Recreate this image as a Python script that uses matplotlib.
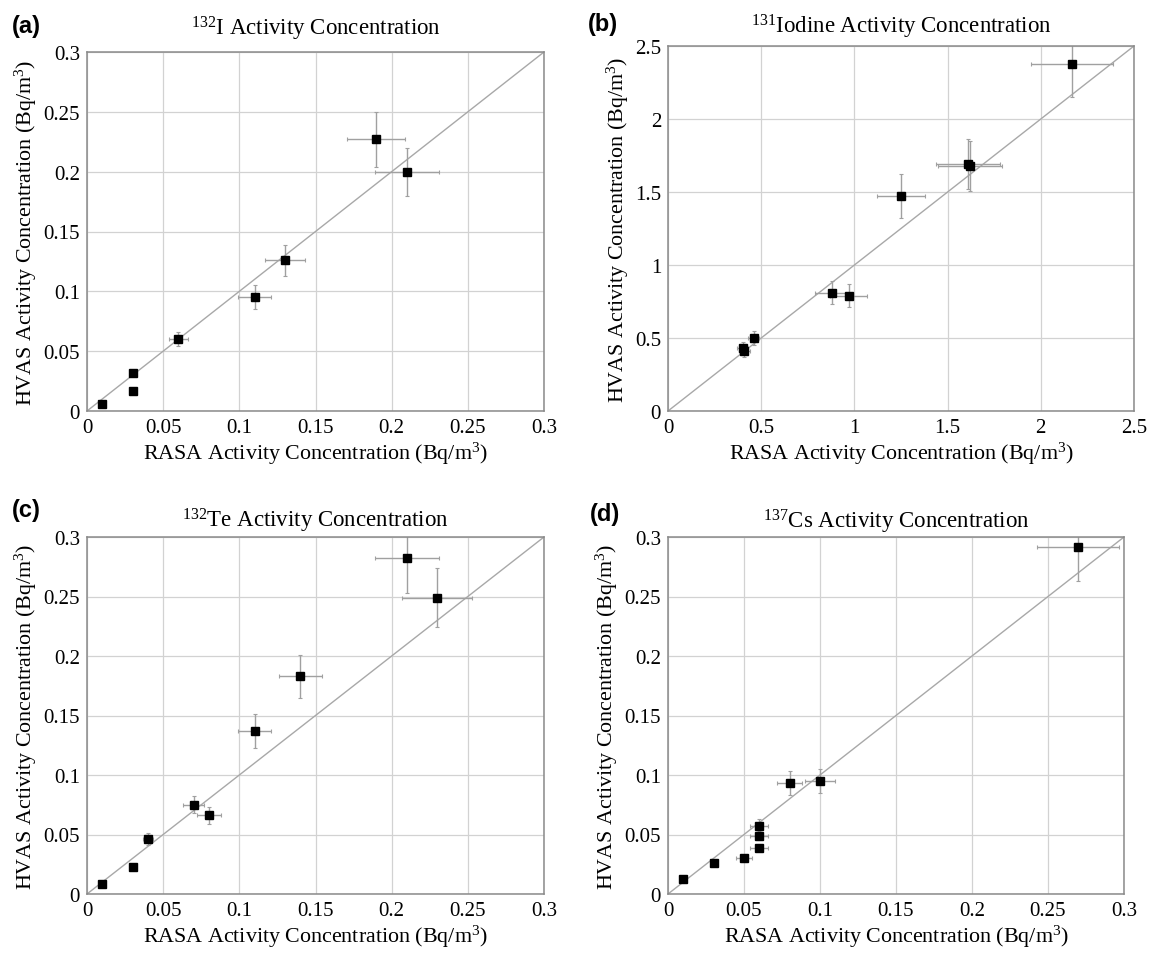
import numpy as np
import matplotlib
matplotlib.use("Agg")
import matplotlib.pyplot as plt

plt.rcParams["font.family"] = "Liberation Serif"
plt.rcParams["mathtext.fontset"] = "custom"
plt.rcParams["mathtext.rm"] = "Liberation Serif"
plt.rcParams["mathtext.it"] = "Liberation Serif:italic"

# (a) 132I
i132_x = [0.01, 0.03, 0.03, 0.06, 0.11, 0.13, 0.19, 0.21]
i132_y = [0.006, 0.032, 0.017, 0.060, 0.095, 0.126, 0.227, 0.200]
i132_xerr = [0.001, 0.002, 0.002, 0.006, 0.011, 0.013, 0.019, 0.021]
i132_yerr = [0.001, 0.002, 0.002, 0.006, 0.010, 0.013, 0.023, 0.020]

# (b) 131I
i131_x = [0.40, 0.41, 0.46, 0.88, 0.97, 1.25, 1.61, 1.62, 2.17]
i131_y = [0.43, 0.41, 0.50, 0.81, 0.79, 1.47, 1.69, 1.68, 2.38]
i131_xerr = [0.03, 0.03, 0.03, 0.09, 0.10, 0.13, 0.17, 0.17, 0.22]
i131_yerr = [0.04, 0.04, 0.05, 0.08, 0.08, 0.15, 0.17, 0.17, 0.23]

# (c) 132Te
te_x = [0.01, 0.03, 0.04, 0.07, 0.08, 0.11, 0.14, 0.21, 0.23]
te_y = [0.008, 0.023, 0.046, 0.075, 0.066, 0.137, 0.183, 0.282, 0.249]
te_xerr = [0.001, 0.002, 0.003, 0.007, 0.008, 0.011, 0.014, 0.021, 0.023]
te_yerr = [0.001, 0.002, 0.005, 0.007, 0.007, 0.014, 0.018, 0.029, 0.025]

# (d) 137Cs
cs_x = [0.01, 0.03, 0.05, 0.06, 0.06, 0.06, 0.08, 0.10, 0.27]
cs_y = [0.013, 0.026, 0.030, 0.039, 0.049, 0.057, 0.093, 0.095, 0.292]
cs_xerr = [0.001, 0.002, 0.005, 0.006, 0.006, 0.006, 0.008, 0.010, 0.027]
cs_yerr = [0.001, 0.002, 0.003, 0.003, 0.004, 0.006, 0.010, 0.010, 0.029]

panels = [
    ("(a)", r"$^{132}$I Activity Concentration", i132_x, i132_y, i132_xerr, i132_yerr, 0.3, 0.05),
    ("(b)", r"$^{131}$Iodine Activity Concentration", i131_x, i131_y, i131_xerr, i131_yerr, 2.5, 0.5),
    ("(c)", r"$^{132}$Te Activity Concentration", te_x, te_y, te_xerr, te_yerr, 0.3, 0.05),
    ("(d)", r"$^{137}$Cs Activity Concentration", cs_x, cs_y, cs_xerr, cs_yerr, 0.3, 0.05),
]

# axes boxes in pixels: left, top, right, bottom
boxes = [(87, 53, 544, 412), (668, 47, 1134, 412), (87, 538, 544, 895), (668, 538, 1124, 895)]
label_pos = [(26, 26), (603, 24), (26, 510), (605, 515)]
title_y = [29, 27, 521, 522]

W, H = 1150, 954
fig = plt.figure(figsize=(W / 100, H / 100), dpi=100)

for (lab, title, x, y, xe, ye, lim, step), box, lp, ty in zip(panels, boxes, label_pos, title_y):
    l, t, r, b = box
    ax = fig.add_axes([l / W, 1 - b / H, (r - l) / W, (b - t) / H])
    ax.set_xlim(0, lim)
    ax.set_ylim(0, lim)
    ticks = np.arange(0, lim + step / 2, step)
    ax.set_xticks(ticks)
    ax.set_yticks(ticks)
    ax.set_xticklabels(["%g" % round(v, 2) for v in ticks])
    ax.set_yticklabels(["%g" % round(v, 2) for v in ticks])
    ax.tick_params(length=0, labelsize=15, pad=5)
    ax.grid(True, color="#d2d2d2", linewidth=0.9)
    ax.set_axisbelow(True)
    for sp in ax.spines.values():
        sp.set_color("#8a8a8a")
        sp.set_linewidth(1.1)
    ax.plot([0, lim], [0, lim], color="#a8a8a8", linewidth=1.0, zorder=1)
    ax.errorbar(x, y, xerr=xe, yerr=ye, fmt="none", ecolor="#a0a0a0",
                elinewidth=1.0, capsize=1.5, capthick=0.8, zorder=2)
    ax.plot(x, y, "s", color="black", markersize=5.5, zorder=3)
    fig.text((l + r) / 2 / W, 1 - ty / H, title, fontsize=16.5, ha="center", va="center")
    ax.set_xlabel("RASA Activity Concentration (Bq/m$^3$)", fontsize=15.8, labelpad=2)
    ax.set_ylabel("HVAS Activity Concentration (Bq/m$^3$)", fontsize=15.8, labelpad=3)
    fig.text(lp[0] / W, 1 - lp[1] / H, lab, fontsize=17, fontweight="bold",
             family="Liberation Sans", ha="center", va="center")

fig.savefig("out.png", dpi=100)
